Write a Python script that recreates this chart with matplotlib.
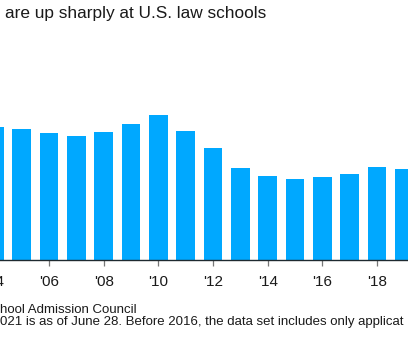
import matplotlib
matplotlib.use("Agg")
import matplotlib.pyplot as plt

# LSAC applications, thousands
years = list(range(2004, 2020))
applications = [553, 546, 527, 515, 531, 565, 602, 535, 465, 381, 351, 336, 344, 357, 386, 377]
tick_years = list(range(2004, 2020, 2))
tick_labels = ["'%02d" % (y % 100) for y in tick_years]

title = "are up sharply at U.S. law schools"
source = "hool Admission Council"
note = "021 is as of June 28. Before 2016, the data set includes only applicat"

plt.rcParams['font.family'] = ['Liberation Sans', 'DejaVu Sans']

W, H = 408, 341
fig = plt.figure(figsize=(W / 100, H / 100), dpi=100)

# plot area laid out in pixels; it runs past both figure edges
px_per_year = 27.33
first_bar_px = 49 - 2 * px_per_year
left_px, right_px = -20, 430
base_px = 81
ax = fig.add_axes([left_px / W, base_px / H, (right_px - left_px) / W, 200 / H])
ax.set_xlim(2004 + (left_px - first_bar_px) / px_per_year,
            2004 + (right_px - first_bar_px) / px_per_year)
ax.set_ylim(0, 832)

ax.bar(years, applications, width=0.684, color='#00a8ff', zorder=2)

for side in ['top', 'right', 'left']:
    ax.spines[side].set_visible(False)
ax.spines['bottom'].set_color('#1f2a30')
ax.spines['bottom'].set_linewidth(1.0)
ax.spines['bottom'].set_zorder(3)

ax.set_yticks([])
ax.set_xticks(tick_years)
ax.set_xticklabels(tick_labels)
ax.tick_params(axis='x', direction='out', length=4, width=0.9, color='#777777',
               labelsize=11, labelcolor='#1a1a1a', pad=6.5)

fig.text(5 / W, 1 - 18.3 / H, title, fontsize=12.4, va='baseline', color='#1a1a1a')
fig.text(0, 28.3 / H, source, fontsize=9.5, va='baseline', color='#1a1a1a')
fig.text(0, 16 / H, note, fontsize=9.5, va='baseline', color='#1a1a1a')

fig.savefig('out.png', dpi=100)
